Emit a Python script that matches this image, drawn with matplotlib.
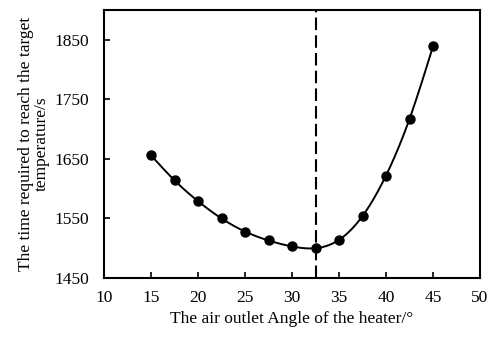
import numpy as np
import matplotlib
matplotlib.use("Agg")
import matplotlib.pyplot as plt

angles = [15, 17.5, 20, 22.5, 25, 27.5, 30, 32.5, 35, 37.5, 40, 42.5, 45]
times = [1656, 1614, 1579, 1550, 1528, 1513, 1503, 1500, 1514, 1554, 1622, 1717, 1839]
optimal_angle = 32.5
x_ticks = [10, 15, 20, 25, 30, 35, 40, 45, 50]
y_ticks = [1450, 1550, 1650, 1750, 1850]

def natural_spline(x, y, n=400):
    x = np.asarray(x, float); y = np.asarray(y, float)
    k = len(x); h = np.diff(x)
    A = np.zeros((k, k)); b = np.zeros(k)
    A[0, 0] = A[-1, -1] = 1
    for i in range(1, k - 1):
        A[i, i - 1] = h[i - 1]; A[i, i] = 2 * (h[i - 1] + h[i]); A[i, i + 1] = h[i]
        b[i] = 3 * ((y[i + 1] - y[i]) / h[i] - (y[i] - y[i - 1]) / h[i - 1])
    c = np.linalg.solve(A, b)
    xs = np.linspace(x[0], x[-1], n); ys = np.empty_like(xs)
    for j, xv in enumerate(xs):
        i = min(np.searchsorted(x, xv) - 1, k - 2); i = max(i, 0)
        d = xv - x[i]
        bb = (y[i + 1] - y[i]) / h[i] - h[i] * (2 * c[i] + c[i + 1]) / 3
        dd = (c[i + 1] - c[i]) / (3 * h[i])
        ys[j] = y[i] + bb * d + c[i] * d ** 2 + dd * d ** 3
    return xs, ys

plt.rcParams['font.family'] = ['Liberation Serif', 'DejaVu Serif']
fig = plt.figure(figsize=(4.9, 3.37), dpi=100)
ax = fig.add_axes([104 / 490, 1 - 278 / 337, (480 - 104) / 490, (278 - 10) / 337])

xs, ys = natural_spline(angles, times)
ax.plot(xs, ys, color='black', lw=1.4)
ax.plot(angles, times, 'o', color='black', ms=6.5)
ax.axvline(optimal_angle, color='black', lw=1.5, ls=(0, (6, 2.5)))

ax.set_xlim(10, 50)
ax.set_ylim(1450, 1900)
ax.set_xticks(x_ticks)
ax.set_yticks(y_ticks)
ax.tick_params(axis='both', direction='in', length=4, width=1.2, labelsize=12.5, top=False, right=False)
ax.tick_params(axis='y', pad=11)
ax.tick_params(axis='x', pad=9)
for s in ax.spines.values():
    s.set_linewidth(1.5)
ax.set_xlabel('The air outlet Angle of the heater/°', fontsize=12.5, labelpad=3)
ax.set_ylabel('The time required to reach the target\ntemperature/s', fontsize=12.5, labelpad=3, linespacing=0.95)

fig.savefig('out.png', dpi=100)
